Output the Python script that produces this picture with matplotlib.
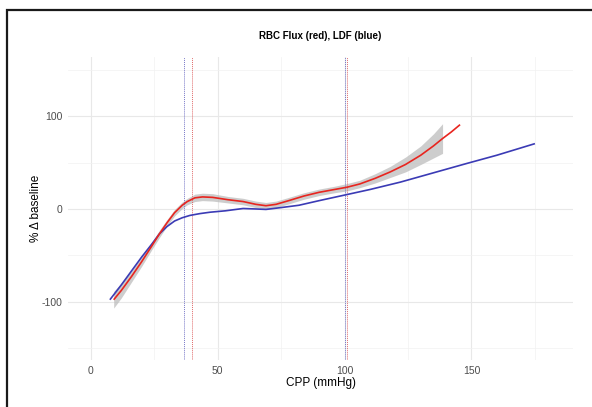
import matplotlib.pyplot as plt
from matplotlib.patches import Rectangle

plt.rcParams['font.family'] = ['Liberation Sans', 'DejaVu Sans']
plt.rcParams['axes.unicode_minus'] = False

# RBC flux smooth (red) with its confidence band
rbc_x = [9, 12, 16, 20, 24, 27, 30, 33, 36, 38, 41, 44, 48, 54, 60, 65, 69,
         73, 78, 84, 90, 96, 101, 106, 112, 118, 124, 130, 135, 138.6, 142, 145.5]
rbc_y = [-98, -88, -73, -57, -40, -27, -15, -4, 4, 8, 12, 13, 12.5, 10, 8, 5, 3.5,
         5, 9, 14, 18, 21, 23.5, 27, 33, 40, 48, 58, 68, 76, 83, 91]
rbc_se = [9, 8, 6, 5, 4, 4, 3.5, 3.5, 3.5, 3.5, 4, 4, 4, 3.5, 3.5, 3.5, 3.5,
          3.5, 3.5, 3.5, 3.5, 3.5, 4, 4, 5, 6, 8, 10, 13, 16, None, None]

# LDF smooth (blue)
ldf_x = [7.5, 12, 16, 20, 24, 27, 30, 33, 36, 39, 43, 47, 53, 60, 65, 69,
         75, 82, 90, 100, 110, 122, 135, 148, 160, 175]
ldf_y = [-98, -82, -67, -52, -38, -27, -19, -13, -9.5, -7, -5, -3.5, -2, 0.5, 0, -0.5,
         1.5, 4, 9, 15, 21, 29, 39, 49, 58, 70.5]

# dotted vertical markers
vlines_blue = [36.6, 100.0]
vlines_red = [39.7, 100.8]

x_ticks = [0, 50, 100, 150]
y_ticks = [-100, 0, 100]

fig = plt.figure(figsize=(5.92, 4.07), dpi=100)
ax = fig.add_axes([68 / 592, 1 - 360 / 407, (573 - 68) / 592, (360 - 57) / 407])

# frame around the figure (only top/left visible)
fig.patches.append(Rectangle((7 / 592, -0.1), 1.2, (407 - 10) / 407 + 0.1,
                             transform=fig.transFigure, fill=False,
                             edgecolor='#1a1a1a', linewidth=1.6))

ax.set_xlim(-9, 190)
ax.set_ylim(-163, 164)
ax.set_xticks(x_ticks)
ax.set_yticks(y_ticks)
ax.set_xticks([25, 75, 125, 175], minor=True)
ax.set_yticks([-150, -50, 50, 150], minor=True)
ax.grid(True, which='major', color='#e8e8e8', linewidth=0.8)
ax.grid(True, which='minor', color='#f1f1f1', linewidth=0.5)
ax.set_axisbelow(True)
for s in ax.spines.values():
    s.set_visible(False)
ax.tick_params(which='both', length=0, labelsize=7.5, labelcolor='#4d4d4d', pad=4)

for v in vlines_blue:
    ax.axvline(v, color='#7878c8', linestyle=(0, (1, 1)), linewidth=0.7)
for v in vlines_red:
    ax.axvline(v, color='#e06a6a', linestyle=(0, (1, 1)), linewidth=0.7)

band_x = [x for x, s in zip(rbc_x, rbc_se) if s is not None]
band_lo = [y - s for y, s in zip(rbc_y, rbc_se) if s is not None]
band_hi = [y + s for y, s in zip(rbc_y, rbc_se) if s is not None]
ax.fill_between(band_x, band_lo, band_hi, color='#bdbdbd', alpha=0.75, linewidth=0)

ax.plot(ldf_x, ldf_y, color='#3b3bb5', linewidth=1.2, solid_capstyle='butt')
ax.plot(rbc_x, rbc_y, color='#e8251f', linewidth=1.2, solid_capstyle='butt')

ax.set_title('RBC Flux (red), LDF (blue)', fontsize=7, fontweight='bold', pad=13)
ax.set_xlabel('CPP (mmHg)', fontsize=8.5, labelpad=1)
ax.set_ylabel('% Δ baseline', fontsize=8.5, labelpad=0)

fig.savefig('out.png', dpi=100)
